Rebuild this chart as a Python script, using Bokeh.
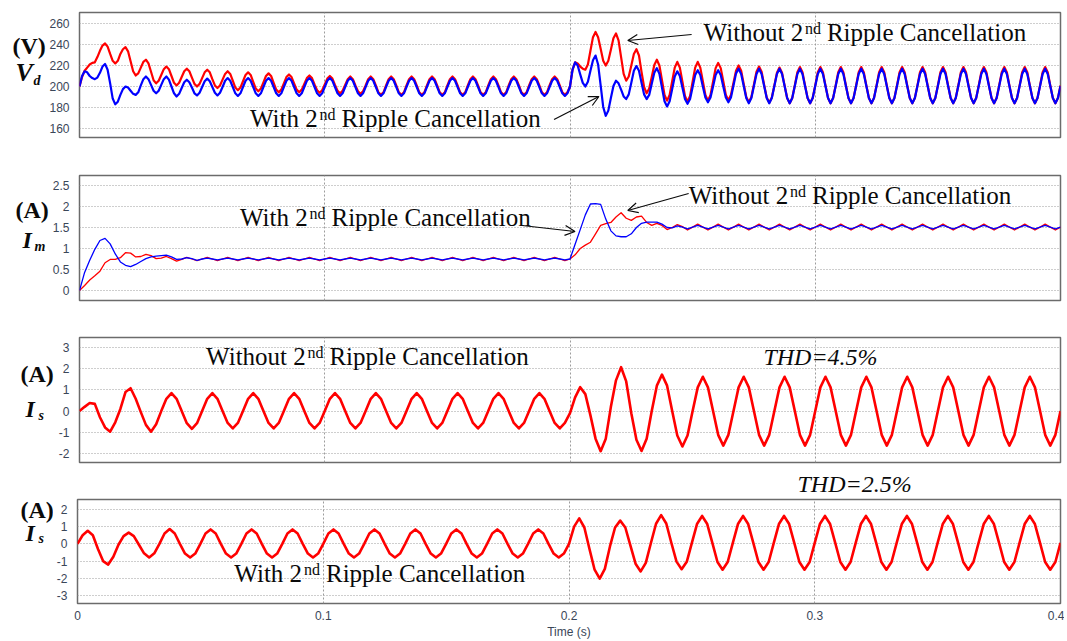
import numpy as np
from bokeh.plotting import figure
from bokeh.layouts import column, row
from bokeh.models import Range1d, FixedTicker, Label, Arrow, OpenHead
from bokeh.embed import file_html
from bokeh.resources import INLINE

# ---------------- data ----------------
# simulation sampling instants (s)
TIME_FINE = np.linspace(0.0, 0.4, 385)   # one sample every 1/960 s (Vd panel)
TIME_S = np.linspace(0.0, 0.4, 193)      # one sample every 1/480 s (current panels)

# DC-link voltage Vd (V), sampled on TIME_FINE
VD_WITHOUT = [
    200, 209, 215, 218, 221, 222.5, 223, 228,
    234, 239, 241, 238, 231, 224.5, 222, 224.5,
    231, 235.5, 237.5, 233.5, 224, 214.5, 210.5, 212.5,
    218, 223.5, 225.5, 222, 214, 206, 203, 205.5,
    211, 216.5, 219, 216.5, 210, 203.5, 201, 203.5,
    209, 214.5, 217, 214.5, 208.5, 202.5, 200, 202.5,
    208, 213.5, 216, 213.5, 207, 201, 198.5, 201,
    206.5, 212, 214.5, 212, 205.5, 199, 196.5, 199,
    205, 211, 213.5, 211, 204.5, 198, 195.5, 198,
    204, 210, 212.5, 210, 203.5, 197, 194.5, 197,
    203, 209, 211.5, 209, 203, 197, 194.5, 197,
    202.5, 208, 210.5, 208, 202, 196.5, 194, 196.5,
    202, 207.5, 210, 207.5, 201.5, 196, 193.5, 196,
    201.5, 207, 209.5, 207, 201, 195.5, 193, 195.5,
    201, 207, 209.5, 207, 201, 194.5, 192, 194.5,
    201, 207, 209.5, 207, 201, 194.5, 192, 194.5,
    201, 207, 209.5, 207, 201, 194.5, 192, 194.5,
    201, 207, 209.5, 207, 201, 194.5, 192, 194.5,
    201, 207, 209.5, 207, 201, 194.5, 192, 194.5,
    201, 207, 209.5, 207, 201, 194.5, 192, 194.5,
    201, 207, 209.5, 207, 201, 194.5, 192, 194.5,
    201, 207, 209.5, 207, 201, 194.5, 192, 194.5,
    201, 207, 209.5, 207, 201, 194.5, 192, 194.5,
    201, 207, 209.5, 207, 201, 194.5, 192, 194.5,
    200, 216, 223, 222, 219, 217, 216, 221,
    234, 247, 252, 247, 236, 224.5, 220, 224.5,
    235, 246, 250.5, 244, 228, 212, 205.5, 209.5,
    220, 231, 235.5, 229.5, 214, 199.5, 193.5, 198,
    209, 220.5, 225.5, 220, 206, 192, 186.5, 192,
    205, 218, 223.5, 218, 204.5, 191, 185.5, 191,
    204.5, 218, 223.5, 218, 205, 192, 186.5, 192,
    204.5, 217.5, 222.5, 217.5, 205, 192, 187, 192,
    203.5, 215, 220, 215, 202.5, 190, 185, 190,
    202, 214, 219, 214, 201.5, 189.5, 184.5, 189.5,
    201, 213, 218, 213, 201, 189, 184, 189,
    201, 213.5, 218.5, 213.5, 201, 189, 184, 189,
    201, 213.5, 218.5, 213.5, 201, 189, 184, 189,
    201, 213.5, 218.5, 213.5, 201, 189, 184, 189,
    201, 213.5, 218.5, 213.5, 201, 189, 184, 189,
    201, 213.5, 218.5, 213.5, 201, 189, 184, 189,
    201, 213.5, 218.5, 213.5, 201, 189, 184, 189,
    201, 213.5, 218.5, 213.5, 201, 189, 184, 189,
    201, 213.5, 218.5, 213.5, 201, 189, 184, 189,
    201, 213.5, 218.5, 213.5, 201, 189, 184, 189,
    201, 213.5, 218.5, 213.5, 201, 189, 184, 189,
    201, 213.5, 218.5, 213.5, 201, 189, 184, 189,
    201, 213.5, 218.5, 213.5, 201, 189, 184, 189,
    201, 213.5, 218.5, 213.5, 201, 189, 184, 189,
    201,
]
VD_WITH = [
    200, 210, 214.5, 213.5, 210, 208, 207, 208.5,
    213, 219, 221.5, 216, 203, 188.5, 183, 185.5,
    192, 197.5, 200, 199, 196, 193, 192, 194.5,
    201, 207, 209.5, 207, 201.5, 196, 193.5, 196,
    201.5, 207, 209.5, 206.5, 200, 193.5, 190.5, 193,
    198.5, 204, 206.5, 204, 199, 193.5, 191.5, 194,
    199.5, 205, 207.5, 205, 199.5, 194, 191.5, 194,
    199.5, 205.5, 208, 205.5, 199.5, 193.5, 191, 193.5,
    199.5, 205.5, 208, 205.5, 199.5, 193.5, 191, 193.5,
    199.5, 205.5, 208, 205.5, 199.5, 193.5, 191, 193.5,
    199.5, 205.5, 208, 205.5, 199.5, 193.5, 191, 193.5,
    199.5, 205.5, 208, 205.5, 199.5, 193.5, 191, 193.5,
    199.5, 205.5, 208, 205.5, 199.5, 193.5, 191, 193.5,
    199.5, 205.5, 208, 205.5, 199.5, 193.5, 191, 193.5,
    199.5, 205.5, 208, 205.5, 199.5, 193.5, 191, 193.5,
    199.5, 205.5, 208, 205.5, 199.5, 193.5, 191, 193.5,
    199.5, 205.5, 208, 205.5, 199.5, 193.5, 191, 193.5,
    199.5, 205.5, 208, 205.5, 199.5, 193.5, 191, 193.5,
    199.5, 205.5, 208, 205.5, 199.5, 193.5, 191, 193.5,
    199.5, 205.5, 208, 205.5, 199.5, 193.5, 191, 193.5,
    199.5, 205.5, 208, 205.5, 199.5, 193.5, 191, 193.5,
    199.5, 205.5, 208, 205.5, 199.5, 193.5, 191, 193.5,
    199.5, 205.5, 208, 205.5, 199.5, 193.5, 191, 193.5,
    199.5, 205.5, 208, 205.5, 199.5, 193.5, 191, 193.5,
    200, 216, 223, 220, 211.5, 203.5, 200, 204.5,
    215, 225, 229.5, 221, 201, 180.5, 172, 177,
    189, 200.5, 205.5, 203, 197, 190.5, 188, 192.5,
    203.5, 215, 219.5, 215, 203.5, 192.5, 188, 192,
    202.5, 213, 217.5, 212, 199, 186, 181, 186,
    197.5, 209.5, 214.5, 210, 199, 188, 183.5, 188,
    199.5, 211, 215.5, 211, 200, 189.5, 185, 189.5,
    200, 211, 215.5, 211, 200, 189.5, 185, 189.5,
    201, 212.5, 217, 212, 200.5, 189, 184, 189,
    200.5, 212, 217, 212, 200.5, 189, 184, 189,
    200.5, 212, 217, 212, 200.5, 189, 184, 189,
    200.5, 212, 217, 212, 200.5, 189, 184, 189,
    200.5, 212, 217, 212, 200.5, 189, 184, 189,
    200.5, 212, 217, 212, 200.5, 189, 184, 189,
    200.5, 212, 217, 212, 200.5, 189, 184, 189,
    200.5, 212, 217, 212, 200.5, 189, 184, 189,
    200.5, 212, 217, 212, 200.5, 189, 184, 189,
    200.5, 212, 217, 212, 200.5, 189, 184, 189,
    200.5, 212, 217, 212, 200.5, 189, 184, 189,
    200.5, 212, 217, 212, 200.5, 189, 184, 189,
    200.5, 212, 217, 212, 200.5, 189, 184, 189,
    200.5, 212, 217, 212, 200.5, 189, 184, 189,
    200.5, 212, 217, 212, 200.5, 189, 184, 189,
    200.5, 212, 217, 212, 200.5, 189, 184, 189,
    200.5,
]

# input current Im (A), sampled on TIME_S
IM_WITHOUT = [
    0.0, 0.12, 0.25, 0.35,
    0.46, 0.66, 0.74, 0.74,
    0.78, 0.9, 0.89, 0.8,
    0.81, 0.86, 0.83, 0.76,
    0.77, 0.81, 0.76, 0.7,
    0.74, 0.79, 0.75, 0.71,
    0.75, 0.79, 0.75, 0.71,
    0.75, 0.79, 0.75, 0.71,
    0.75, 0.79, 0.75, 0.71,
    0.75, 0.79, 0.75, 0.71,
    0.75, 0.79, 0.75, 0.71,
    0.75, 0.79, 0.75, 0.71,
    0.75, 0.79, 0.75, 0.71,
    0.75, 0.79, 0.75, 0.71,
    0.75, 0.79, 0.75, 0.71,
    0.75, 0.79, 0.75, 0.71,
    0.75, 0.79, 0.75, 0.71,
    0.75, 0.79, 0.75, 0.71,
    0.75, 0.79, 0.75, 0.71,
    0.75, 0.79, 0.75, 0.71,
    0.75, 0.79, 0.75, 0.71,
    0.75, 0.79, 0.75, 0.71,
    0.75, 0.79, 0.75, 0.71,
    0.75, 0.79, 0.75, 0.71,
    0.75, 0.85, 1.0, 1.08,
    1.15, 1.35, 1.55, 1.59,
    1.62, 1.75, 1.85, 1.72,
    1.67, 1.75, 1.77, 1.62,
    1.55, 1.6, 1.55, 1.45,
    1.5, 1.57, 1.52, 1.44,
    1.51, 1.58, 1.51, 1.44,
    1.51, 1.58, 1.51, 1.44,
    1.51, 1.58, 1.51, 1.44,
    1.51, 1.58, 1.51, 1.44,
    1.51, 1.58, 1.51, 1.44,
    1.51, 1.58, 1.51, 1.44,
    1.51, 1.58, 1.51, 1.44,
    1.51, 1.58, 1.51, 1.44,
    1.51, 1.58, 1.51, 1.44,
    1.51, 1.58, 1.51, 1.44,
    1.51, 1.58, 1.51, 1.44,
    1.51, 1.58, 1.51, 1.44,
    1.51, 1.58, 1.51, 1.44,
    1.51, 1.58, 1.51, 1.44,
    1.51, 1.58, 1.51, 1.44,
    1.51, 1.58, 1.51, 1.44,
    1.51, 1.58, 1.51, 1.44,
    1.51, 1.58, 1.51, 1.44,
    1.51,
]
IM_WITH = [
    0.0, 0.43, 0.72, 0.98,
    1.19, 1.24, 1.11, 0.87,
    0.68, 0.6, 0.57, 0.62,
    0.69, 0.76, 0.8, 0.82,
    0.83, 0.84, 0.8, 0.74,
    0.75, 0.78, 0.76, 0.72,
    0.75, 0.77, 0.75, 0.73,
    0.75, 0.77, 0.75, 0.73,
    0.75, 0.77, 0.75, 0.73,
    0.75, 0.77, 0.75, 0.73,
    0.75, 0.77, 0.75, 0.73,
    0.75, 0.77, 0.75, 0.73,
    0.75, 0.77, 0.75, 0.73,
    0.75, 0.77, 0.75, 0.73,
    0.75, 0.77, 0.75, 0.73,
    0.75, 0.77, 0.75, 0.73,
    0.75, 0.77, 0.75, 0.73,
    0.75, 0.77, 0.75, 0.73,
    0.75, 0.77, 0.75, 0.73,
    0.75, 0.77, 0.75, 0.73,
    0.75, 0.77, 0.75, 0.73,
    0.75, 0.77, 0.75, 0.73,
    0.75, 0.77, 0.75, 0.73,
    0.75, 0.77, 0.75, 0.73,
    0.75, 1.1, 1.45, 1.8,
    2.06, 2.07, 2.05, 1.7,
    1.42, 1.3, 1.28, 1.28,
    1.35, 1.5, 1.6, 1.63,
    1.63, 1.63, 1.58, 1.5,
    1.49, 1.54, 1.51, 1.47,
    1.51, 1.55, 1.51, 1.47,
    1.51, 1.55, 1.51, 1.47,
    1.51, 1.55, 1.51, 1.47,
    1.51, 1.55, 1.51, 1.47,
    1.51, 1.55, 1.51, 1.47,
    1.51, 1.55, 1.51, 1.47,
    1.51, 1.55, 1.51, 1.47,
    1.51, 1.55, 1.51, 1.47,
    1.51, 1.55, 1.51, 1.47,
    1.51, 1.55, 1.51, 1.47,
    1.51, 1.55, 1.51, 1.47,
    1.51, 1.55, 1.51, 1.47,
    1.51, 1.55, 1.51, 1.47,
    1.51, 1.55, 1.51, 1.47,
    1.51, 1.55, 1.51, 1.47,
    1.51, 1.55, 1.51, 1.47,
    1.51, 1.55, 1.51, 1.47,
    1.51, 1.55, 1.51, 1.47,
    1.51,
]

# grid current Is (A), sampled on TIME_S
IS_WITHOUT = [
    0.0, 0.2, 0.38, 0.34, -0.29, -0.77, -0.97, -0.53,
    0.1, 0.9, 1.08, 0.58, -0.05, -0.65, -0.97, -0.62,
    0.0, 0.58, 0.85, 0.58, 0.0, -0.57, -0.84, -0.57,
    0.0, 0.58, 0.85, 0.58, 0.0, -0.56, -0.82, -0.56,
    0.0, 0.58, 0.85, 0.58, 0.0, -0.56, -0.82, -0.56,
    0.0, 0.58, 0.85, 0.58, 0.0, -0.56, -0.82, -0.56,
    0.0, 0.58, 0.85, 0.58, 0.0, -0.56, -0.82, -0.56,
    0.0, 0.58, 0.85, 0.58, 0.0, -0.56, -0.82, -0.56,
    0.0, 0.58, 0.85, 0.58, 0.0, -0.56, -0.82, -0.56,
    0.0, 0.58, 0.85, 0.58, 0.0, -0.56, -0.82, -0.56,
    0.0, 0.58, 0.85, 0.58, 0.0, -0.56, -0.82, -0.56,
    0.0, 0.58, 0.85, 0.58, 0.0, -0.56, -0.82, -0.56,
    -0.1, 0.65, 1.13, 0.8, -0.2, -1.3, -1.89, -1.3,
    0.2, 1.45, 2.07, 1.4, -0.1, -1.35, -1.88, -1.3,
    0.0, 1.2, 1.72, 1.2, 0.0, -1.15, -1.67, -1.15,
    0.0, 1.12, 1.62, 1.12, 0.0, -1.12, -1.63, -1.12,
    0.0, 1.12, 1.62, 1.12, 0.0, -1.12, -1.63, -1.12,
    0.0, 1.12, 1.62, 1.12, 0.0, -1.12, -1.63, -1.12,
    0.0, 1.12, 1.62, 1.12, 0.0, -1.12, -1.63, -1.12,
    0.0, 1.12, 1.62, 1.12, 0.0, -1.12, -1.63, -1.12,
    0.0, 1.12, 1.62, 1.12, 0.0, -1.12, -1.63, -1.12,
    0.0, 1.12, 1.62, 1.12, 0.0, -1.12, -1.63, -1.12,
    0.0, 1.12, 1.62, 1.12, 0.0, -1.12, -1.63, -1.12,
    0.0, 1.12, 1.62, 1.12, 0.0, -1.12, -1.63, -1.12,
    0.0,
]
IS_WITH = [
    0.0, 0.5, 0.76, 0.5, -0.3, -1.0, -1.2, -0.75,
    -0.05, 0.45, 0.65, 0.45, -0.05, -0.55, -0.79, -0.55,
    0.0, 0.6, 0.86, 0.6, 0.0, -0.56, -0.79, -0.56,
    0.0, 0.6, 0.84, 0.6, 0.0, -0.56, -0.79, -0.56,
    0.0, 0.6, 0.84, 0.6, 0.0, -0.56, -0.79, -0.56,
    0.0, 0.6, 0.84, 0.6, 0.0, -0.56, -0.79, -0.56,
    0.0, 0.6, 0.84, 0.6, 0.0, -0.56, -0.79, -0.56,
    0.0, 0.6, 0.84, 0.6, 0.0, -0.56, -0.79, -0.56,
    0.0, 0.6, 0.84, 0.6, 0.0, -0.56, -0.79, -0.56,
    0.0, 0.6, 0.84, 0.6, 0.0, -0.56, -0.79, -0.56,
    0.0, 0.6, 0.84, 0.6, 0.0, -0.56, -0.79, -0.56,
    0.0, 0.6, 0.84, 0.6, 0.0, -0.56, -0.79, -0.56,
    0.0, 1.0, 1.48, 0.95, -0.3, -1.5, -2.02, -1.45,
    -0.15, 0.95, 1.35, 0.95, -0.1, -1.15, -1.6, -1.1,
    0.05, 1.17, 1.67, 1.18, 0.05, -1.03, -1.47, -1.04,
    0.06, 1.15, 1.62, 1.15, 0.06, -1.05, -1.5, -1.05,
    0.06, 1.15, 1.62, 1.15, 0.06, -1.05, -1.5, -1.05,
    0.06, 1.15, 1.62, 1.15, 0.06, -1.05, -1.5, -1.05,
    0.06, 1.15, 1.62, 1.15, 0.06, -1.05, -1.5, -1.05,
    0.06, 1.15, 1.62, 1.15, 0.06, -1.05, -1.5, -1.05,
    0.06, 1.15, 1.62, 1.15, 0.06, -1.05, -1.5, -1.05,
    0.06, 1.15, 1.62, 1.15, 0.06, -1.05, -1.5, -1.05,
    0.06, 1.15, 1.62, 1.15, 0.06, -1.05, -1.5, -1.05,
    0.06, 1.15, 1.62, 1.15, 0.06, -1.05, -1.5, -1.05,
    0.06,
]

X_TICKS = [0, 0.1, 0.2, 0.3, 0.4]
X_TICK_LABELS = ["0", "0.1", "0.2", "0.3", "0.4"]
VD_TICKS = [160, 180, 200, 220, 240, 260]
VD_TICK_LABELS = ["160", "180", "200", "220", "240", "260"]
IM_TICKS = [0, 0.5, 1, 1.5, 2, 2.5]
IM_TICK_LABELS = ["0", "0.5", "1", "1.5", "2", "2.5"]
IS3_TICKS = [-2, -1, 0, 1, 2, 3]
IS3_TICK_LABELS = ["-2", "-1", "0", "1", "2", "3"]
IS4_TICKS = [-3, -2, -1, 0, 1, 2]
IS4_TICK_LABELS = ["-3", "-2", "-1", "0", "1", "2"]

# ---------------- layout / style ----------------
TOTAL_W = 1064
FRAME_L, FRAME_R = 76, 1060          # frame edges in page pixels
PX_PER_S = (FRAME_R - FRAME_L) / 0.4
SERIF = "Liberation Serif"
TICK_FONT = "Liberation Sans Narrow, Arial Narrow, Liberation Sans"
TICK_COLOR = "#3a4658"
GRID_COLOR = "#9c9c9c"
INK = "#0a0a0a"
RED, BLUE = "#ff0000", "#0000ff"
LIFT = 0.33   # rendered text sits this many font-sizes lower than its anchor

GEOM = {
    "vd": dict(top=0, bot=158, ft=12, fb=137, y0=151.4, y1=270.5, side=46),
    "im": dict(top=158, bot=320, ft=175, fb=300, y0=-0.238, y1=2.738, side=49),
    "is3": dict(top=320, bot=464, ft=337, fb=462, y0=-2.425, y1=3.472, side=55),
    "is4": dict(top=498, bot=641, ft=499, fb=604, y0=-3.46, y1=2.575, side=53),
}
GAP_TOP, GAP_BOT = 464, 498   # strip between panels 3 and 4 (holds THD=2.5%)


def dx(px):
    return (px - FRAME_L) / PX_PER_S


def dy(g, py):
    return g["y1"] - (py - g["ft"]) / (g["fb"] - g["ft"]) * (g["y1"] - g["y0"])


def style_axis(ax, ticks, labels, standoff):
    ax.ticker = FixedTicker(ticks=ticks)
    ax.major_label_overrides = dict(zip(ticks, labels))
    ax.axis_line_color = None
    ax.major_tick_line_color = None
    ax.minor_tick_line_color = None
    ax.major_tick_out = 0
    ax.major_tick_in = 0
    ax.major_label_standoff = standoff
    ax.major_label_text_font = TICK_FONT
    ax.major_label_text_font_size = "12px"
    ax.major_label_text_color = TICK_COLOR


def make_panel(g, ticks, labels, show_x=False):
    w = TOTAL_W - g["side"]
    p = figure(width=w, height=g["bot"] - g["top"],
               x_range=Range1d(0, 0.4), y_range=Range1d(g["y0"], g["y1"]),
               output_backend="svg", toolbar_location=None, title=None,
               x_axis_location="below" if show_x else None,
               min_border_left=FRAME_L - g["side"], min_border_right=TOTAL_W - FRAME_R,
               min_border_top=g["ft"] - g["top"], min_border_bottom=g["bot"] - g["fb"])
    p.background_fill_color = "white"
    p.border_fill_color = "white"
    p.outline_line_color = "#6b6b6b"
    p.outline_line_width = 1.5
    style_axis(p.yaxis[0], ticks, labels, 10)
    if show_x:
        xa = p.xaxis[0]
        style_axis(xa, X_TICKS, X_TICK_LABELS, 7)
        xa.axis_label = "Time (s)"
        xa.axis_label_standoff = 2
        xa.axis_label_text_font = TICK_FONT
        xa.axis_label_text_font_size = "12px"
        xa.axis_label_text_font_style = "normal"
        xa.axis_label_text_color = TICK_COLOR
    p.xgrid.ticker = FixedTicker(ticks=[0.1, 0.2, 0.3])
    p.xgrid.grid_line_color = GRID_COLOR
    p.xgrid.grid_line_dash = "2 2"
    p.ygrid.ticker = FixedTicker(ticks=ticks)
    p.ygrid.grid_line_color = GRID_COLOR
    p.ygrid.grid_line_dash = "1 2"
    return p


def make_box(width, height):
    """Blank figure whose frame fills it; data units = pixels (y downward)."""
    p = figure(width=width, height=height,
               x_range=Range1d(0, width), y_range=Range1d(height, 0),
               output_backend="svg", toolbar_location=None, title=None,
               x_axis_location=None, y_axis_location=None,
               min_border_left=0, min_border_right=0, min_border_top=0, min_border_bottom=0)
    p.outline_line_color = None
    p.xgrid.visible = False
    p.ygrid.visible = False
    p.background_fill_color = "white"
    p.border_fill_color = "white"
    return p


def label(p, x, y, s, size, style="normal", font=SERIF, color=INK):
    p.add_layout(Label(x=x, y=y, text=s, text_font=font, text_font_size=f"{size}px",
                       text_font_style=style, text_align="left",
                       text_baseline="alphabetic", text_color=color))


def txt(p, g, px, base, s, size, style="normal"):
    """Text whose baseline should land at page pixel row `base`."""
    label(p, dx(px), dy(g, base - LIFT * size), s, size, style)


def box_txt(b, top, px, base, s, size, style="normal"):
    label(b, px, base - top - LIFT * size, s, size, style)


LEAD_W = {"With 2": 68.75, "Without 2": 100.7}


def ripple_note(p, g, x0, base, lead):
    w = LEAD_W[lead]
    txt(p, g, x0, base, lead, 25)
    txt(p, g, x0 + w + 1, base - 7, "nd", 16)
    txt(p, g, x0 + w + 23, base, "Ripple Cancellation", 25)


def arrow(p, g, x_from, y_from, x_to, y_to):
    p.add_layout(Arrow(x_start=dx(x_from), y_start=dy(g, y_from),
                       x_end=dx(x_to), y_end=dy(g, y_to),
                       line_color=INK, line_width=1.2,
                       end=OpenHead(size=10, line_color=INK, line_width=1.2)))


def side_box(g, unit, unit_x, unit_base, sym, sym_x, sym_base, sym_size, sub, sub_x, sub_base):
    b = make_box(g["side"], g["bot"] - g["top"])
    box_txt(b, g["top"], unit_x, unit_base, unit, 24, "bold")
    box_txt(b, g["top"], sym_x, sym_base, sym, sym_size, "bold italic")
    box_txt(b, g["top"], sub_x, sub_base, sub, 14, "bold italic")
    return b


# ---- panel 1 : Vd ----
g = GEOM["vd"]
p1 = make_panel(g, VD_TICKS, VD_TICK_LABELS)
p1.line(TIME_FINE, VD_WITHOUT, line_color=RED, line_width=2.2, line_join="round")
p1.line(TIME_FINE, VD_WITH, line_color=BLUE, line_width=2.2, line_join="round")
ripple_note(p1, g, 702, 40, "Without 2")
arrow(p1, g, 690, 34, 626, 40)
ripple_note(p1, g, 247, 126, "With 2")
arrow(p1, g, 552, 119, 597, 96)
s1 = side_box(g, "(V)", 12, 50, "V", 15, 85, 26, "d", 33, 90)

# ---- panel 2 : Im ----
g = GEOM["im"]
p2 = make_panel(g, IM_TICKS, IM_TICK_LABELS)
p2.line(TIME_S, IM_WITHOUT, line_color=RED, line_width=1.3, line_join="round")
p2.line(TIME_S, IM_WITH, line_color=BLUE, line_width=1.3, line_join="round")
ripple_note(p2, g, 237, 225, "With 2")
arrow(p2, g, 520, 225, 573, 231)
ripple_note(p2, g, 687, 203, "Without 2")
arrow(p2, g, 687, 193, 626, 210)
s2 = side_box(g, "(A)", 15, 211, "I", 22, 250, 24, "m", 34, 254)

# ---- panel 3 : Is without ----
g = GEOM["is3"]
p3 = make_panel(g, IS3_TICKS, IS3_TICK_LABELS)
p3.line(TIME_S, IS_WITHOUT, line_color=RED, line_width=2.6, line_join="round")
ripple_note(p3, g, 203, 364, "Without 2")
txt(p3, g, 762, 364, "THD=4.5%", 24, style="italic")
s3 = side_box(g, "(A)", 20, 370, "I", 25, 410, 24, "s", 38, 414)

# ---- strip with THD=2.5% ----
gap = make_box(TOTAL_W, GAP_BOT - GAP_TOP)
box_txt(gap, GAP_TOP, 797, 491, "THD=2.5%", 24, "italic")

# ---- panel 4 : Is with ----
g = GEOM["is4"]
p4 = make_panel(g, IS4_TICKS, IS4_TICK_LABELS, show_x=True)
p4.line(TIME_S, IS_WITH, line_color=RED, line_width=2.6, line_join="round")
ripple_note(p4, g, 233, 582, "With 2")
s4 = side_box(g, "(A)", 20, 521, "I", 25, 552, 24, "s", 38, 556)

layout = column(row(s1, p1), row(s2, p2), row(s3, p3), gap, row(s4, p4))
open("out.html", "w").write(file_html(layout, INLINE))
